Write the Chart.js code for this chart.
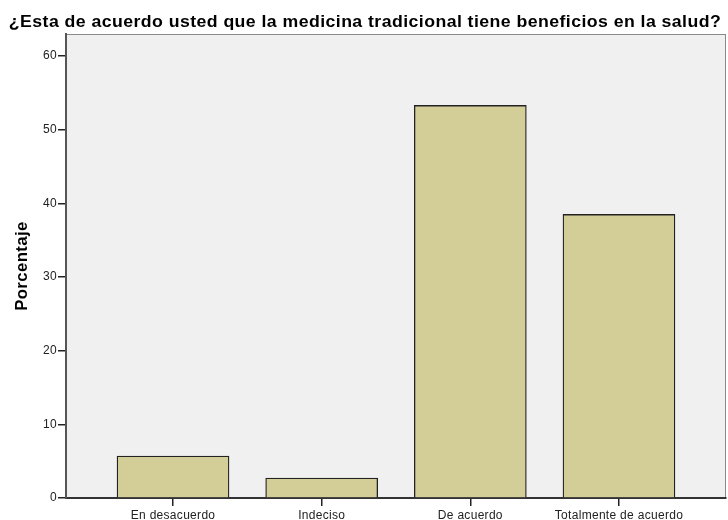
<!DOCTYPE html>
<html>
<head>
<meta charset="utf-8">
<script src="https://cdn.jsdelivr.net/npm/chart.js@4.4.1/dist/chart.umd.min.js"></script>
<style>
    html, body { margin: 0; padding: 0; background: #fff; }
    #wrap { width: 728px; height: 520px; }
</style>
</head>
<body>
<div id="wrap"><canvas id="chart" width="728" height="520"></canvas></div>
<script>
const categories = ['En desacuerdo', 'Indeciso', 'De acuerdo', 'Totalmente de acuerdo'];
const percentages = [5.7, 2.7, 53.3, 38.5];
const yTicks = [0, 10, 20, 30, 40, 50, 60];
const chartTitle = '¿Esta de acuerdo usted que la medicina tradicional tiene beneficios en la salud?';
const yTitle = 'Porcentaje';

const FONT = 'Liberation Sans, Arial, sans-serif';

// grey plot area with a thin frame, like the SPSS output
const plotFrame = {
    id: 'plotFrame',
    beforeDraw(chart) {
        const { ctx, chartArea: a } = chart;
        ctx.save();
        ctx.fillStyle = '#f0f0f0';
        ctx.fillRect(a.left, a.top, a.right - a.left, a.bottom - a.top);
        ctx.strokeStyle = '#8a8a8a';
        ctx.lineWidth = 1;
        ctx.strokeRect(a.left + 0.5, a.top + 0.5, a.right - a.left - 1, a.bottom - a.top - 1);
        ctx.restore();
        // the SPSS text is set a bit wider than plain Arial
        ctx.letterSpacing = '0.3px';
    },
    afterDraw(chart) {
        const { ctx, chartArea: a } = chart;
        ctx.save();
        ctx.fillStyle = '#000';
        ctx.textAlign = 'center';
        ctx.textBaseline = 'alphabetic';
        ctx.letterSpacing = '0.4px';
        ctx.font = 'bold 16px ' + FONT;

        // main title, stretched to the SPSS width
        ctx.save();
        ctx.translate(chart.width / 2 + 1, 27);
        ctx.scale(1.105, 1);
        ctx.fillText(chartTitle, 0, 0);
        ctx.restore();

        // y axis title
        ctx.translate(27, (a.top + a.bottom) / 2);
        ctx.rotate(-Math.PI / 2);
        ctx.scale(1.045, 1);
        ctx.fillText(yTitle, 0, 0);
        ctx.restore();
        ctx.letterSpacing = '0px';
    }
};

function initChart() {
    const data = {
        datasets: [{
            data: percentages.map((v, i) => ({ x: i, y: v })),
            backgroundColor: '#d3ce97',
            borderColor: '#222',
            borderWidth: 1.3,
            barThickness: 112
        }]
    };

    new Chart(document.getElementById('chart'), {
        type: 'bar',
        data: data,
        plugins: [plotFrame],
        options: {
            responsive: false,
            animation: false,
            layout: { padding: { top: 34, right: 2, left: 0, bottom: 0 } },
            plugins: {
                legend: { display: false },
                tooltip: { enabled: false },
                title: { display: false }
            },
            scales: {
                x: {
                    type: 'linear',
                    offset: false,
                    min: -0.72,
                    max: 3.72,
                    afterBuildTicks: (scale) => {
                        scale.ticks = categories.map((c, i) => ({ value: i }));
                    },
                    afterFit: (scale) => { scale.height = 22; },
                    grid: { display: true, offset: false, drawOnChartArea: false, tickLength: 8, color: '#222', lineWidth: 1.5 },
                    border: { display: true, color: '#333', width: 2 },
                    ticks: {
                        padding: 2,
                        color: '#222',
                        maxRotation: 0,
                        autoSkip: false,
                        font: { family: FONT, size: 12 },
                        callback: (v) => categories[v]
                    }
                },
                y: {
                    min: 0,
                    max: 63,
                    afterBuildTicks: (scale) => {
                        scale.ticks = yTicks.map(v => ({ value: v }));
                    },
                    afterFit: (scale) => { scale.width = 66; },
                    grid: { display: true, drawOnChartArea: false, tickLength: 8, color: '#222', lineWidth: 1.5 },
                    border: { display: true, color: '#555', width: 2 },
                    ticks: {
                        padding: 1,
                        color: '#222',
                        font: { family: FONT, size: 12 }
                    }
                }
            }
        }
    });
}

initChart();
</script>
</body>
</html>
